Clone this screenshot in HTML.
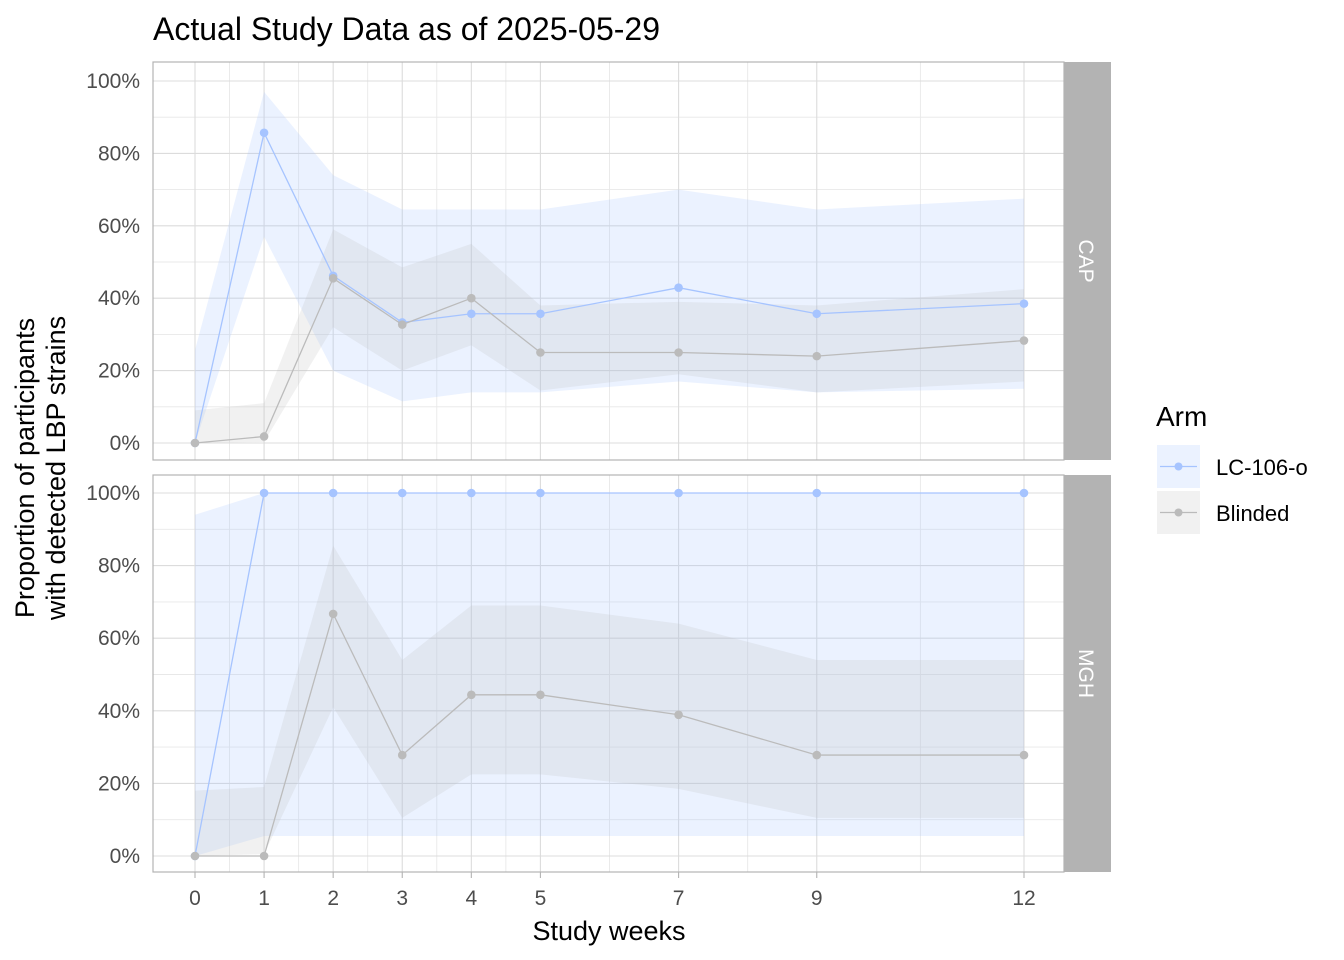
<!DOCTYPE html>
<html><head><meta charset="utf-8"><style>
html,body{margin:0;padding:0;background:#fff;}
svg{display:block;font-family:"Liberation Sans",Arial,sans-serif;}
</style></head><body>
<svg id="chart" width="1344" height="960" viewBox="0 0 1344 960">
<text x="153" y="40" font-size="32" fill="#000">Actual Study Data as of 2025-05-29</text>
<g id="panels"></g>
<text transform="translate(38,468) rotate(-90)" text-anchor="middle" font-size="27" fill="#000"><tspan x="0" dy="-4">Proportion of participants</tspan><tspan x="0" dy="31">with detected LBP strains</tspan></text>
<text x="609" y="940" text-anchor="middle" font-size="27" fill="#000">Study weeks</text>
<g>
<text x="1156" y="426" font-size="28" fill="#000">Arm</text>
<g>
<rect x="1157" y="445" width="43" height="43" fill="rgba(166,196,255,0.22)"/>
<line x1="1160" y1="466.5" x2="1197" y2="466.5" stroke="#a6c4ff" stroke-width="1.3"/>
<circle cx="1178.5" cy="466.5" r="4" fill="#a6c4ff"/>
<text x="1216" y="475" font-size="22" fill="#000">LC-106-o</text></g>
<g>
<rect x="1157" y="491" width="43" height="43" fill="rgba(190,190,190,0.22)"/>
<line x1="1160" y1="512.5" x2="1197" y2="512.5" stroke="#bbbbbb" stroke-width="1.3"/>
<circle cx="1178.5" cy="512.5" r="4" fill="#bbbbbb"/>
<text x="1216" y="521" font-size="22" fill="#000">Blinded</text></g>
</g>
</svg>
<script>
const weeks=[0,1,2,3,4,5,7,9,12];
const xTicks=[0,1,2,3,4,5,7,9,12];
const xMinor=[0.5,1.5,2.5,3.5,4.5,6,8,10.5];
const yTicks=[0,0.2,0.4,0.6,0.8,1];
const yTickLabels=["0%","20%","40%","60%","80%","100%"];
const capLC=[0,0.857,0.462,0.333,0.357,0.357,0.429,0.357,0.385];
const capLCHi=[0.257,0.97,0.74,0.645,0.645,0.645,0.70,0.645,0.675];
const capLCLo=[0,0.57,0.20,0.115,0.14,0.14,0.17,0.14,0.15];
const capBl=[0,0.018,0.455,0.327,0.40,0.25,0.25,0.24,0.283];
const capBlHi=[0.09,0.11,0.59,0.485,0.55,0.38,0.39,0.38,0.425];
const capBlLo=[0,0.003,0.32,0.20,0.27,0.145,0.19,0.14,0.17];
const mghLC=[0,1,1,1,1,1,1,1,1];
const mghLCHi=[0.94,1,1,1,1,1,1,1,1];
const mghLCLo=[0,0.055,0.055,0.055,0.055,0.055,0.055,0.055,0.055];
const mghBl=[0,0,0.667,0.278,0.444,0.444,0.389,0.278,0.278];
const mghBlHi=[0.18,0.19,0.855,0.54,0.69,0.69,0.64,0.54,0.54];
const mghBlLo=[0,0.005,0.41,0.105,0.225,0.225,0.185,0.105,0.105];

const NS="http://www.w3.org/2000/svg";
const root=document.getElementById('panels');
const PX0=153,PX1=1064;
const xs=w=>195+(1024-195)*w/12;
function mk(tag,attrs,parent){const e=document.createElementNS(NS,tag);for(const k in attrs)e.setAttribute(k,attrs[k]);parent.appendChild(e);return e;}
function panel(name,top,bot,y0,y100,lc,lcHi,lcLo,bl,blHi,blLo){
  const g=mk('g',{},root);
  
  
  const ys=v=>y0+(y100-y0)*v;
  for(let v=0.1;v<1.05;v+=0.2){const l=mk('line',{x1:PX0,x2:PX1,y1:ys(v),y2:ys(v),stroke:'#e8e8e8','stroke-width':0.9},g);}
  xMinor.forEach(w=>{const l=mk('line',{x1:xs(w),x2:xs(w),y1:top,y2:bot,stroke:'#e8e8e8','stroke-width':0.9},g);});
  yTicks.forEach((v,i)=>{const l=mk('line',{x1:PX0,x2:PX1,y1:ys(v),y2:ys(v),stroke:'#dcdcdc','stroke-width':1.1},g);
    const t=mk('text',{x:140,y:ys(v)+7,'text-anchor':'end','font-size':21,fill:'#4d4d4d'},g);t.textContent=yTickLabels[i];});
  xTicks.forEach(w=>{const l=mk('line',{x1:xs(w),x2:xs(w),y1:top,y2:bot,stroke:'#dcdcdc','stroke-width':1.1},g);});
  function ribbon(hi,lo,fill,nm){let d='M'+weeks.map((w,i)=>xs(w)+','+ys(hi[i])).join('L');for(let i=weeks.length-1;i>=0;i--)d+='L'+xs(weeks[i])+','+ys(lo[i]);d+='Z';const p=mk('path',{d:d,fill:fill},g);}
  ribbon(lcHi,lcLo,'rgba(166,196,255,0.22)','ribbon-lc106o');
  ribbon(blHi,blLo,'rgba(190,190,190,0.22)','ribbon-blinded');
  function series(vals,col,nm){const p=mk('polyline',{points:weeks.map((w,i)=>xs(w)+','+ys(vals[i])).join(' '),fill:'none',stroke:col,'stroke-width':1.3},g);
    vals.forEach((v,i)=>{const c=mk('circle',{cx:xs(weeks[i]),cy:ys(v),r:4.3,fill:col},g);});}
  series(lc,'#a6c4ff','lc106o');
  series(bl,'#bbbbbb','blinded');
  const b=mk('rect',{x:PX0,y:top,width:PX1-PX0,height:bot-top,fill:'none',stroke:'#b3b3b3','stroke-width':1.2},g);
  const s=mk('rect',{x:1064,y:top,width:47,height:bot-top,fill:'#b3b3b3'},g);
  const st=mk('text',{transform:'translate(1079,'+((top+bot)/2)+') rotate(90)','text-anchor':'middle','font-size':21,fill:'#fff'},g);st.textContent=name;
}
panel('CAP',62,460,443,81,capLC,capLCHi,capLCLo,capBl,capBlHi,capBlLo);
panel('MGH',475,872,856,493,mghLC,mghLCHi,mghLCLo,mghBl,mghBlHi,mghBlLo);
xTicks.forEach(w=>{const l=mk('line',{x1:xs(w),x2:xs(w),y1:872,y2:878,stroke:'#b3b3b3','stroke-width':1.1},root);
  const t=mk('text',{x:xs(w),y:905,'text-anchor':'middle','font-size':21,fill:'#4d4d4d'},root);t.textContent=String(w);});
</script>
</body></html>
